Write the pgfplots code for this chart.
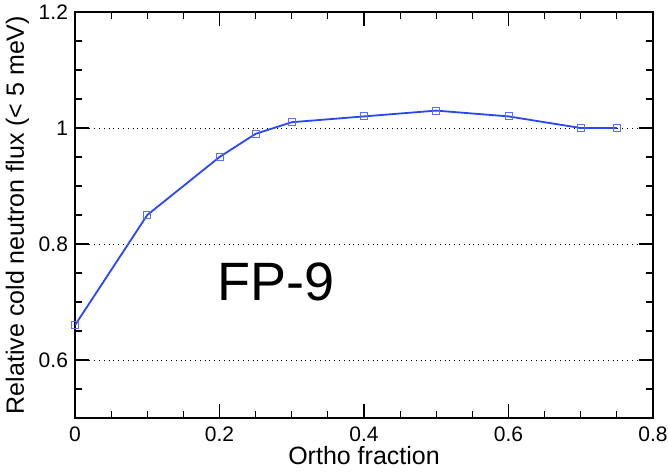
\documentclass[border=0pt]{standalone}
\usepackage{pgfplots}
\pgfplotsset{compat=1.18}
\usepackage{fontspec}
\setmainfont{Liberation Sans}
\definecolor{lineblue}{RGB}{40,70,250}
\definecolor{markblue}{RGB}{90,110,250}
\begin{document}
\begin{tikzpicture}
\begin{axis}[
  scale only axis,
  width=289pt, height=203pt,
  xmin=0, xmax=0.8, ymin=0.5, ymax=1.2,
  xtick={0,0.2,0.4,0.6,0.8},
  ytick={0.6,0.8,1,1.2},
  minor x tick num=3,
  minor ytick={0.55,0.65,0.7,0.75,0.85,0.9,0.95,1.05,1.1,1.15},
  tick align=inside,
  major tick length=7pt,
  minor tick length=3.5pt,
  every tick/.style={black, line width=0.6pt},
  axis line style={line width=1pt},
  ymajorgrids,
  major grid style={black, dotted, line width=0.5pt},
  xticklabel style={font=\fontsize{10.5}{12}\selectfont, /pgf/number format/fixed, yshift=-1pt},
  yticklabel style={font=\fontsize{10.5}{12}\selectfont, /pgf/number format/fixed},
  /pgf/number format/assume math mode=true,
  xlabel={Ortho fraction},
  ylabel={Relative cold neutron flux (< 5 meV)},
  label style={font=\fontsize{12.5}{14}\selectfont},
  xlabel style={yshift=4.5pt},
  ylabel style={yshift=-2pt},
]
\addplot[color=lineblue, line width=0.9pt, mark=square, mark size=1.75pt,
  mark options={draw=markblue, line width=0.5pt}]
coordinates {
(0,0.66) (0.1,0.85) (0.2,0.95) (0.25,0.99) (0.3,1.01) (0.4,1.02) (0.5,1.03) (0.6,1.02) (0.7,1.0) (0.75,1.0)
};
\node[font=\fontsize{27}{30}\selectfont, anchor=center] at (axis cs:0.278,0.734) {FP-9};
\end{axis}
\pgfresetboundingbox
\path (current axis.south west) ++(-37.5pt,-26.5pt) rectangle ([xshift=7.5pt,yshift=6pt]current axis.north east);
\end{tikzpicture}
\end{document}
